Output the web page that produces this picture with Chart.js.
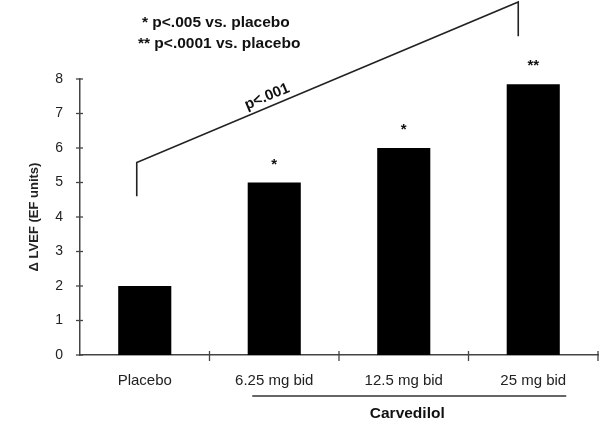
<!DOCTYPE html>
<html><head><meta charset="utf-8">
<script src="https://cdn.jsdelivr.net/npm/chart.js@4/dist/chart.umd.min.js"></script>
<style>html,body{margin:0;padding:0;background:#fff}#wrap{width:602px;height:425px}</style>
</head><body><div id="wrap"><canvas id="c" width="602" height="425"></canvas></div>
<script>
const categories = ['Placebo', '6.25 mg bid', '12.5 mg bid', '25 mg bid'];
const deltaLVEF = [2, 5, 6, 7.85];
const significance = ['', '*', '*', '**'];
const yTicks = [0, 1, 2, 3, 4, 5, 6, 7, 8];
const footnotes = ['* p<.005 vs. placebo', '** p<.0001 vs. placebo'];
const groupLabel = 'Carvedilol';
const trendLabel = 'p<.001';
const yTitle = 'Δ LVEF (EF units)';

const AX = '#444';
const FONT = "'Liberation Sans', Arial, sans-serif";

const annot = {
  id: 'annot',
  afterDraw(chart) {
    const ctx = chart.ctx, x = chart.scales.x, y = chart.scales.y;
    ctx.save();
    // crossing tick marks
    ctx.strokeStyle = AX; ctx.lineWidth = 1.3;
    yTicks.forEach(v => {
      const py = y.getPixelForValue(v);
      ctx.beginPath(); ctx.moveTo(x.left - 4, py); ctx.lineTo(x.left + 3, py); ctx.stroke();
    });
    const half = (x.getPixelForValue(1) - x.getPixelForValue(0)) / 2;
    for (let i = 0; i < categories.length; i++) {
      const px = x.getPixelForValue(i) + half;
      ctx.beginPath(); ctx.moveTo(px, y.bottom - 4); ctx.lineTo(px, y.bottom + 6); ctx.stroke();
    }
    // significance stars
    ctx.fillStyle = '#111';
    ctx.font = 'bold 15px ' + FONT;
    ctx.textAlign = 'center'; ctx.textBaseline = 'middle';
    deltaLVEF.forEach((v, i) => {
      if (significance[i]) ctx.fillText(significance[i], x.getPixelForValue(i), y.getPixelForValue(v) - 18);
    });
    // footnotes
    ctx.font = 'bold 15.5px ' + FONT;
    ctx.textAlign = 'left';
    ctx.fillText(footnotes[0], 142, 23);
    ctx.fillText(footnotes[1], 138, 44);
    // trend bracket
    const lx = x.getPixelForValue(0) - 8, rx = x.getPixelForValue(3) - 15;
    const ly0 = y.getPixelForValue(4.6), ly1 = y.getPixelForValue(5.58);
    const ry0 = y.getPixelForValue(10.23), ry1 = y.getPixelForValue(9.24);
    ctx.strokeStyle = '#222'; ctx.lineWidth = 1.6;
    ctx.beginPath(); ctx.moveTo(lx, ly0); ctx.lineTo(lx, ly1); ctx.lineTo(rx, ry0); ctx.lineTo(rx, ry1); ctx.stroke();
    const ang = Math.atan2(ry0 - ly1, rx - lx);
    const tx = 267, ty = ly1 + (tx - lx) * Math.tan(ang);
    ctx.translate(tx, ty - 11); ctx.rotate(ang);
    ctx.font = 'bold 15px ' + FONT; ctx.textAlign = 'center'; ctx.textBaseline = 'middle';
    ctx.fillText(trendLabel, 0, 0);
    ctx.setTransform(1, 0, 0, 1, 0, 0);
    // group underline and label
    const gx0 = x.getPixelForValue(1) - 22, gx1 = x.getPixelForValue(3) + 33;
    ctx.strokeStyle = '#333'; ctx.lineWidth = 1.3;
    ctx.beginPath(); ctx.moveTo(gx0, 396); ctx.lineTo(gx1, 396); ctx.stroke();
    ctx.font = 'bold 15.5px ' + FONT; ctx.textAlign = 'center';
    ctx.fillText(groupLabel, (gx0 + gx1) / 2 - 2, 414);
    ctx.restore();
  }
};

new Chart(document.getElementById('c'), {
  type: 'bar',
  data: { labels: categories, datasets: [{ data: deltaLVEF, backgroundColor: '#000', borderWidth: 0, categoryPercentage: 1, barPercentage: 0.41 }] },
  options: {
    responsive: false, animation: false, devicePixelRatio: 1,
    layout: { padding: { top: 79, right: 4, left: 0, bottom: 0 } },
    plugins: { legend: { display: false }, tooltip: { enabled: false } },
    scales: {
      x: {
        grid: { display: false, drawTicks: false },
        border: { color: AX, width: 1.5 },
        ticks: { color: '#222', font: { family: FONT, size: 15 }, padding: 17, maxRotation: 0, autoSkip: false },
        afterFit(s) { s.height = 70; }
      },
      y: {
        min: 0, max: 8,
        afterBuildTicks(s) { s.ticks = yTicks.map(v => ({ value: v })); },
        grid: { display: false, drawTicks: false },
        border: { color: AX, width: 1.5 },
        ticks: { color: '#222', font: { family: FONT, size: 14 }, padding: 17 },
        title: { display: true, text: yTitle, color: '#222', font: { family: FONT, size: 13, weight: 'bold' }, padding: { top: 27, bottom: 0 } },
        afterFit(s) { s.width = 80; }
      }
    }
  },
  plugins: [annot]
});
</script></body></html>
